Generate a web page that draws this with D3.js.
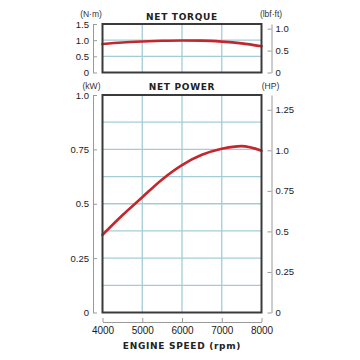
<!DOCTYPE html>
<html><head><meta charset="utf-8">
<script src="https://cdn.jsdelivr.net/npm/d3@7"></script>
<style>
html,body{margin:0;padding:0;background:#fff;}
svg{display:block;}
.tick text{font-family:"Liberation Sans",Arial,sans-serif;font-size:9.5px;fill:#1a1a1a;}
</style></head>
<body>
<svg id="c" width="360" height="360"></svg>
<script>
// ---- data ----
const rpm = [4000, 4500, 5000, 5500, 6000, 6500, 7000, 7500, 8000];
const torqueNm = [0.88, 0.93, 0.96, 0.98, 0.99, 0.985, 0.955, 0.90, 0.81];
const powerKw = [0.357, 0.447, 0.53, 0.612, 0.678, 0.725, 0.753, 0.765, 0.744];
const xTicks = [4000, 5000, 6000, 7000, 8000];
const xGrid = [5000, 6000, 7000];
const torqueTicks = [0, 0.5, 1.0, 1.5];
const torqueGrid = [0.5, 1.0];
const lbfTicks = [0, 0.5, 1.0];
const powerTicks = [0, 0.25, 0.5, 0.75, 1.0];
const powerGrid = [0.125, 0.25, 0.375, 0.5, 0.625, 0.75, 0.875];
const hpTicks = [0, 0.25, 0.5, 0.75, 1.0, 1.25];
const NM_TO_LBFFT = 0.7376;
const KW_TO_HP = 1 / 0.7457;

const svg = d3.select("#c");
const L = 102.5, R = 261.5, axL = 93, axR = 271.5;
const x = d3.scaleLinear().domain([4000, 8000]).range([L, R]);

const tT = 24, tB = 72.5;
const yT = d3.scaleLinear().domain([0, 1.5]).range([tB, tT]);
const yTl = d3.scaleLinear().domain([0, 1.5 * NM_TO_LBFFT]).range([tB, tT]);

const pT = 95, pB = 312.5;
const yP = d3.scaleLinear().domain([0, 1]).range([pB, pT]);
const yHP = d3.scaleLinear().domain([0, KW_TO_HP]).range([pB, pT]);

const gridCol = "#a3ccd6", boxCol = "#3a3a3a", axCol = "#9a9a9a", red = "#c4262e";
const fmt1 = d => d === 0 ? "0" : (Number.isInteger(d) ? d.toFixed(1) : String(d));

function panel(top, bottom, yS, hGrid, curveData) {
  const g = svg.append("g");
  g.selectAll(".vg").data(xGrid).join("line")
    .attr("x1", d => x(d)).attr("x2", d => x(d)).attr("y1", top).attr("y2", bottom)
    .attr("stroke", gridCol).attr("stroke-width", 1.3);
  g.selectAll(".hg").data(hGrid).join("line")
    .attr("x1", L).attr("x2", R).attr("y1", d => yS(d)).attr("y2", d => yS(d))
    .attr("stroke", gridCol).attr("stroke-width", 1.3);
  const line = d3.line().x((d, i) => x(rpm[i])).y(d => yS(d)).curve(d3.curveMonotoneX);
  g.append("path").attr("d", line(curveData)).attr("fill", "none")
    .attr("stroke", red).attr("stroke-width", 2.6).attr("stroke-linecap", "round");
  g.append("rect").attr("x", L).attr("y", top).attr("width", R - L).attr("height", bottom - top)
    .attr("fill", "none").attr("stroke", boxCol).attr("stroke-width", 2);
}

function styleAxis(sel) {
  sel.select(".domain").attr("stroke", axCol).attr("stroke-width", 1);
  sel.selectAll(".tick line").attr("stroke", axCol).attr("stroke-width", 1);
}

// Torque panel
panel(tT, tB, yT, torqueGrid, torqueNm);
svg.append("g").attr("transform", `translate(${axL},0)`)
  .call(d3.axisLeft(yT).tickValues(torqueTicks).tickFormat(fmt1).tickSizeInner(-4).tickSizeOuter(0).tickPadding(4))
  .call(styleAxis);
svg.append("g").attr("transform", `translate(${axR},0)`)
  .call(d3.axisRight(yTl).tickValues(lbfTicks).tickFormat(fmt1).tickSizeInner(-4).tickSizeOuter(0).tickPadding(4))
  .call(styleAxis);

// Power panel
panel(pT, pB, yP, powerGrid, powerKw);
svg.append("g").attr("transform", `translate(${axL},0)`)
  .call(d3.axisLeft(yP).tickValues(powerTicks).tickFormat(fmt1).tickSizeInner(-4).tickSizeOuter(0).tickPadding(4))
  .call(styleAxis);
svg.append("g").attr("transform", `translate(${axR},0)`)
  .call(d3.axisRight(yHP).tickValues(hpTicks).tickFormat(fmt1).tickSizeInner(-4).tickSizeOuter(0).tickPadding(4))
  .call(styleAxis);
const xa = svg.append("g").attr("transform", `translate(0,322)`)
  .call(d3.axisBottom(x).tickValues(xTicks).tickFormat(d3.format("d")).tickSizeInner(-4).tickSizeOuter(0).tickPadding(5))
  .call(styleAxis);
xa.selectAll(".tick text").style("font-size", "10px");

// Titles and unit labels
const unit = (t, xx, yy) => svg.append("text").text(t).attr("x", xx).attr("y", yy)
  .attr("text-anchor", "middle").attr("font-family", "Liberation Sans, Arial, sans-serif")
  .attr("font-size", 8.5).attr("fill", "#333");
const title = (t, xx, yy) => svg.append("text").text(t).attr("x", xx).attr("y", yy)
  .attr("text-anchor", "middle").attr("font-family", "DejaVu Sans, sans-serif")
  .attr("font-weight", "bold").attr("font-size", 9).attr("letter-spacing", 0.7).attr("fill", "#222");

unit("(N·m)", 91, 17);
title("NET TORQUE", 182, 20);
unit("(lbf·ft)", 271, 17);
unit("(kW)", 91.5, 88.5);
title("NET POWER", 182, 90);
unit("(HP)", 270.5, 88.5);
title("ENGINE SPEED (rpm)", 182, 349);
</script>
</body></html>
